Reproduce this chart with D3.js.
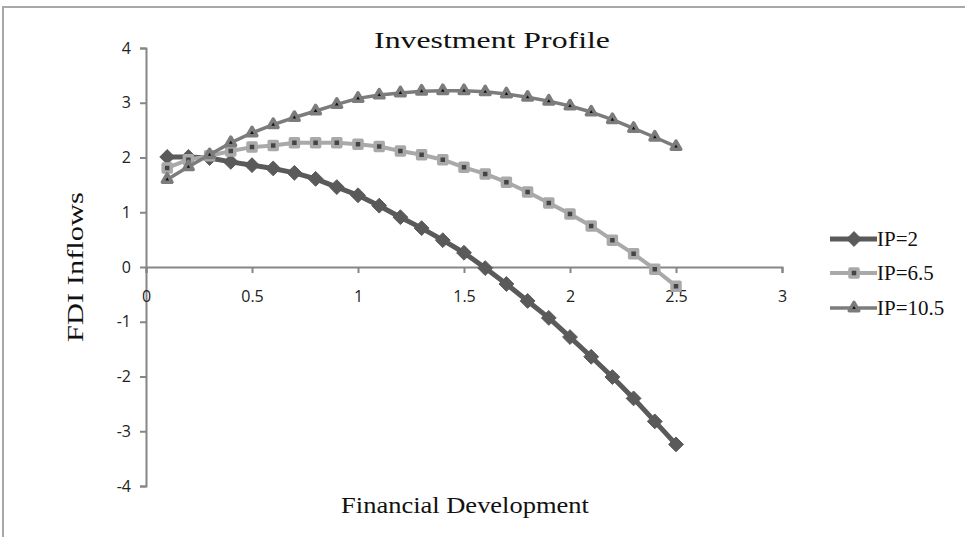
<!DOCTYPE html>
<html>
<head>
<meta charset="utf-8">
<script src="https://cdn.jsdelivr.net/npm/d3@7"></script>
<style>
  body { margin: 0; background: #fff; }
  svg { display: block; }
</style>
</head>
<body>
<div id="chart"></div>
<script>
// data
const xValues = [0.1,0.2,0.3,0.4,0.5,0.6,0.7,0.8,0.9,1.0,1.1,1.2,1.3,1.4,1.5,1.6,1.7,1.8,1.9,2.0,2.1,2.2,2.3,2.4,2.5];
const ip2 = [2.01,2.01,1.99,1.92,1.86,1.8,1.72,1.61,1.46,1.31,1.12,0.91,0.71,0.49,0.26,-0.02,-0.31,-0.62,-0.93,-1.28,-1.64,-2.01,-2.4,-2.82,-3.24];
const ip65 = [1.81,1.96,2.03,2.12,2.19,2.22,2.27,2.27,2.27,2.24,2.2,2.12,2.05,1.96,1.82,1.7,1.55,1.37,1.17,0.97,0.75,0.49,0.24,-0.04,-0.35];
const ip105 = [1.6,1.83,2.05,2.27,2.45,2.6,2.73,2.85,2.97,3.08,3.14,3.18,3.21,3.22,3.22,3.2,3.16,3.1,3.03,2.94,2.83,2.69,2.53,2.37,2.2];
const seriesNames = ["IP=2", "IP=6.5", "IP=10.5"];
const xTicks = [0,0.5,1,1.5,2,2.5,3];
const yTicks = [-4,-3,-2,-1,0,1,2,3,4];

const W = 965, H = 537;
const serif = "'Liberation Serif', 'DejaVu Serif', serif";
const sans = "'Open Sans', 'Liberation Sans', sans-serif";

const svg = d3.select("#chart").append("svg")
    .attr("width", W).attr("height", H);

// frame edge (top and left, as in the picture)
svg.append("path")
    .attr("d", `M3,${H} L3,7 L${W},7`)
    .attr("fill", "none")
    .attr("stroke", "#a8a8a8")
    .attr("stroke-width", 2);

const x = d3.scaleLinear().domain([0, 3]).range([146, 782]);
const y = d3.scaleLinear().domain([-4, 4]).range([486, 48]);

const axisColor = "#868686";

// y axis
const yAxis = svg.append("g")
    .attr("transform", `translate(${x(0)},0)`)
    .call(d3.axisLeft(y).tickValues(yTicks).tickSize(6).tickPadding(9).tickFormat(d => String(d)));
yAxis.select(".domain").attr("stroke", axisColor).attr("stroke-width", 2);
yAxis.selectAll(".tick line").attr("stroke", axisColor).attr("stroke-width", 2);
yAxis.selectAll(".tick text")
    .attr("font-family", sans).attr("font-size", 16).attr("fill", "#222");

// x axis on the zero line
const xAxis = svg.append("g")
    .attr("transform", `translate(0,${y(0)})`)
    .call(d3.axisBottom(x).tickValues(xTicks).tickSize(6).tickPadding(18).tickFormat(d => String(d)));
xAxis.select(".domain").attr("stroke", axisColor).attr("stroke-width", 2);
xAxis.selectAll(".tick line").attr("stroke", axisColor).attr("stroke-width", 2);
xAxis.selectAll(".tick text")
    .attr("font-family", sans).attr("font-size", 16).attr("fill", "#222");

// serif label, stretched sideways to the width of the wider original face
function wideText(cx, cy, rotate, size, width, label){
    const g = svg.append("g")
        .attr("transform", `translate(${cx},${cy}) rotate(${rotate})`);
    const t = g.append("text")
        .attr("text-anchor", "middle")
        .attr("font-family", serif).attr("font-size", size)
        .attr("fill", "#111")
        .text(label);
    const len = t.node().getComputedTextLength();
    t.attr("transform", `scale(${width / len},1)`);
    return t;
}

wideText(492, 48, 0, 24, 236, "Investment Profile");
wideText(465, 513, 0, 23, 248, "Financial Development");
wideText(83, y(0), -90, 23, 150, "FDI Inflows");

// square diamond marker (the d3 one is too tall)
const diamond = {
    draw(ctx, size) {
        const r = Math.sqrt(size / 2);
        ctx.moveTo(0, -r);
        ctx.lineTo(r, 0);
        ctx.lineTo(0, r);
        ctx.lineTo(-r, 0);
        ctx.closePath();
    }
};

// series styles
const series = [
    { name: seriesNames[0], values: ip2, line: "#5a5a5a", lw: 5, symbol: diamond, size: 110, fill: "#5a5a5a", stroke: "#5a5a5a", sw: 1 },
    { name: seriesNames[1], values: ip65, line: "#a9a9a9", lw: 4, symbol: d3.symbolSquare, size: 64, fill: "#444", stroke: "#a9a9a9", sw: 3.5 },
    { name: seriesNames[2], values: ip105, line: "#7c7c7c", lw: 3.5, symbol: d3.symbolTriangle, size: 40, fill: "#111", stroke: "#7c7c7c", sw: 3.5 }
];

const line = d3.line()
    .x((d, i) => x(xValues[i]))
    .y(d => y(d));

const seriesG = svg.selectAll("g.series").data(series).join("g").attr("class", "series");

seriesG.append("path")
    .attr("d", d => line(d.values))
    .attr("fill", "none")
    .attr("stroke", d => d.line)
    .attr("stroke-width", d => d.lw)
    .attr("stroke-linejoin", "round");

seriesG.each(function(s){
    d3.select(this).selectAll("path.marker").data(s.values)
        .join("path")
            .attr("class", "marker")
            .attr("transform", (d, i) => `translate(${x(xValues[i])},${y(d)})`)
            .attr("d", d3.symbol().type(s.symbol).size(s.size))
            .attr("fill", s.fill)
            .attr("stroke", s.stroke)
            .attr("stroke-width", s.sw)
            .attr("stroke-linejoin", "round");
});

// legend
const legendY = [239, 273, 308];
const legend = svg.selectAll("g.legend").data(series).join("g")
    .attr("class", "legend")
    .attr("transform", (d, i) => `translate(830,${legendY[i]})`);

legend.append("line")
    .attr("x1", 0).attr("x2", 47)
    .attr("stroke", d => d.line)
    .attr("stroke-width", d => d.lw);

legend.append("path")
    .attr("transform", "translate(24,0)")
    .attr("d", d => d3.symbol().type(d.symbol).size(d.size)())
    .attr("fill", d => d.fill)
    .attr("stroke", d => d.stroke)
    .attr("stroke-width", d => d.sw)
    .attr("stroke-linejoin", "round");

legend.append("text")
    .attr("x", 47).attr("y", 7)
    .attr("font-family", serif).attr("font-size", 21)
    .attr("fill", "#111")
    .text(d => d.name);
</script>
</body>
</html>
